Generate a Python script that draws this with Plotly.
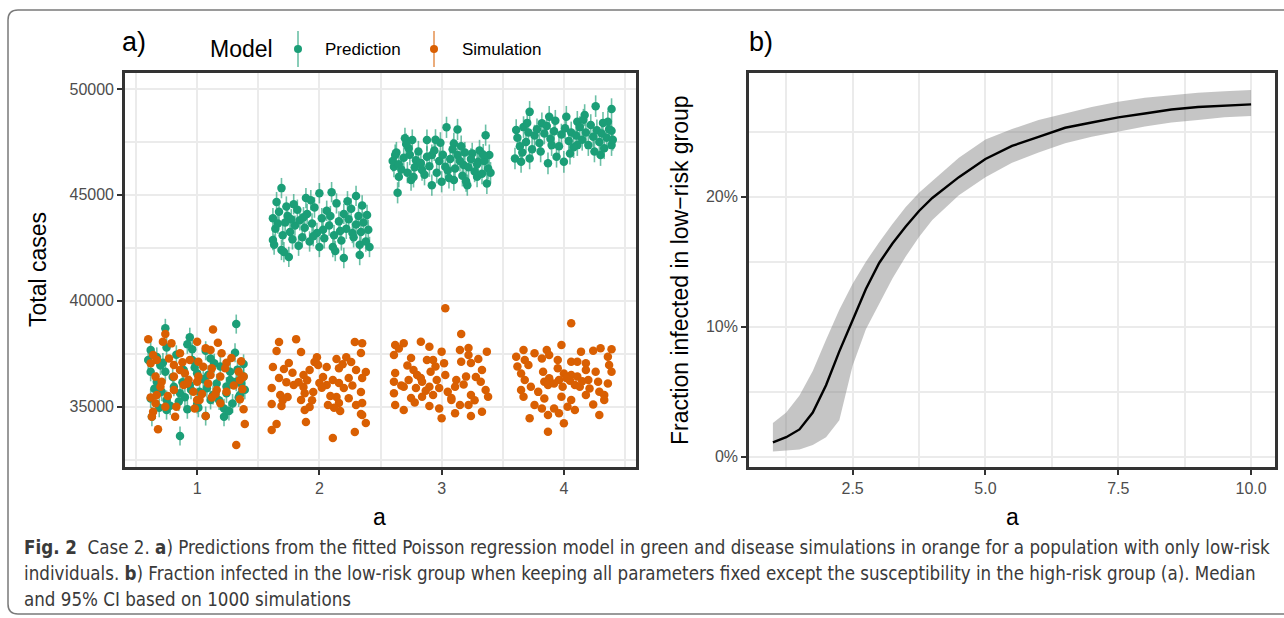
import plotly.graph_objects as go

W, H = 1284, 618

# ---------------- Panel a data: (jitter offset, total cases) ----------------
GROUPS = [1, 2, 3, 4]
PRED_ERR = [450, 480, 500, 510]  # half-width of prediction bars per group

PRED_G1 = [(0.32, 38900), (-0.26, 38700), (-0.06, 38280), (-0.25, 37800), (-0.38, 37680), (-0.04, 37710),
           (0.07, 37640), (0.31, 37550), (-0.40, 37200), (-0.28, 37080), (-0.04, 37200), (0.11, 37280),
           (0.38, 37020), (-0.38, 36650), (-0.26, 36650), (-0.11, 36730), (0.0, 36580), (0.27, 36650),
           (0.38, 36420), (-0.33, 36180), (-0.19, 35940), (-0.06, 36020), (0.08, 35870), (0.16, 36100),
           (0.27, 36260), (0.32, 36180), (-0.29, 35710), (-0.14, 35630), (0.02, 35710), (0.13, 35550),
           (0.24, 35630), (0.35, 35550), (-0.38, 35390), (-0.25, 35320), (-0.15, 35240), (0.0, 35130),
           (0.11, 35320), (0.34, 35440), (-0.08, 34880), (-0.25, 34840), (0.22, 34920), (-0.37, 34530),
           (0.07, 34560), (0.22, 34530), (-0.14, 33620), (-0.33, 37350), (-0.20, 36400), (0.19, 36900),
           (0.05, 36300), (-0.10, 35450), (0.29, 35150), (-0.30, 36950), (0.14, 37050), (0.24, 35950),
           (-0.02, 36850), (-0.35, 35850), (0.36, 36100), (-0.17, 37450), (0.01, 34950), (-0.22, 35050),
           (0.18, 35300), (-0.05, 35800), (0.33, 36750), (-0.12, 36150), (0.09, 36500), (-0.31, 34950),
           (0.26, 34800), (-0.08, 37950), (0.39, 35800)]

PRED_G2 = [(-0.31, 45320), (0.10, 45130), (0.0, 45080), (0.30, 44950), (-0.11, 44850), (-0.35, 44660),
           (-0.21, 44560), (-0.25, 42070), (0.20, 42020), (0.11, 42540), (0.41, 42540), (0.33, 42160),
           (0.0, 42540), (-0.31, 42400), (-0.38, 42870), (-0.38, 43900), (-0.36, 43400), (-0.33, 44200),
           (-0.30, 43100), (-0.28, 43700), (-0.26, 44000), (-0.24, 43250), (-0.22, 42900), (-0.20, 43550),
           (-0.18, 44300), (-0.16, 43800), (-0.14, 43000), (-0.12, 43450), (-0.10, 44100), (-0.08, 42800),
           (-0.06, 43650), (-0.04, 44400), (-0.02, 43200), (0.02, 43900), (0.04, 42950), (0.06, 44250),
           (0.08, 43550), (0.12, 43100), (0.14, 44600), (0.16, 43750), (0.18, 42850), (0.20, 44100),
           (0.22, 43400), (0.24, 43850), (0.26, 44350), (0.28, 43000), (0.30, 43600), (0.32, 44000),
           (0.34, 43250), (0.36, 43700), (0.38, 42800), (0.40, 43350), (-0.37, 42650), (-0.27, 44450),
           (-0.17, 42600), (-0.07, 44750), (0.03, 43350), (0.13, 42350), (0.23, 44700), (0.33, 42650),
           (0.39, 44050), (-0.34, 43650), (-0.13, 43950), (0.09, 44000), (0.27, 43200), (-0.23, 43850),
           (0.17, 43300), (-0.05, 43050), (0.35, 44500), (-0.29, 42300)]

PRED_G3 = [(0.04, 48190), (0.13, 48090), (0.36, 47820), (-0.30, 47670), (-0.24, 47590), (-0.12, 47590),
           (-0.01, 47460), (0.10, 47430), (-0.38, 46880), (-0.27, 47200), (-0.08, 46880), (0.13, 46880),
           (0.25, 46960), (0.39, 46880), (-0.39, 46330), (-0.21, 46640), (-0.16, 46170), (0.03, 46330),
           (0.18, 46410), (0.30, 46560), (-0.35, 45860), (-0.25, 45700), (-0.08, 45460), (0.10, 45700),
           (0.21, 45460), (0.37, 45540), (-0.36, 45100), (0.0, 45620), (0.29, 45860), (-0.40, 46600),
           (-0.37, 47000), (-0.33, 46200), (-0.31, 46750), (-0.28, 46050), (-0.26, 46900), (-0.22, 46300),
           (-0.19, 47050), (-0.17, 46500), (-0.14, 45950), (-0.12, 46800), (-0.10, 46350), (-0.06, 47100),
           (-0.04, 46050), (-0.02, 46600), (0.01, 46900), (0.05, 46150), (0.07, 46700), (0.09, 47150),
           (0.11, 46250), (0.15, 46600), (0.17, 45900), (0.19, 47000), (0.22, 46300), (0.24, 46700),
           (0.27, 46100), (0.29, 46450), (0.31, 47100), (0.33, 46000), (0.35, 46600), (0.38, 46250),
           (0.40, 46050), (-0.35, 46450), (-0.23, 45850), (0.06, 45800), (0.20, 45650), (0.34, 46900),
           (-0.05, 47600), (0.16, 47300), (-0.29, 47400)]

PRED_G4 = [(0.26, 49190), (0.39, 49050), (-0.28, 48920), (-0.12, 48690), (0.02, 48690), (0.17, 48770),
           (-0.39, 48060), (-0.18, 48380), (0.11, 48450), (0.36, 48450), (0.39, 48030), (-0.40, 46720),
           (-0.35, 46560), (-0.28, 46720), (-0.13, 46490), (-0.06, 46800), (0.0, 46560), (0.30, 46880),
           (0.39, 47350), (-0.10, 47350), (0.11, 47350), (-0.38, 47700), (-0.36, 47300), (-0.33, 48200),
           (-0.31, 47500), (-0.29, 47950), (-0.26, 47150), (-0.24, 47800), (-0.22, 48100), (-0.20, 47450),
           (-0.16, 47900), (-0.14, 48250), (-0.11, 47650), (-0.08, 48000), (-0.04, 47300), (-0.02, 47850),
           (0.01, 48150), (0.04, 47550), (0.06, 47950), (0.08, 47250), (0.10, 47800), (0.13, 48200),
           (0.15, 47600), (0.18, 47950), (0.20, 47350), (0.22, 48300), (0.24, 47750), (0.27, 48050),
           (0.29, 47500), (0.31, 47900), (0.33, 47200), (0.35, 47700), (0.37, 48100), (0.40, 47600),
           (-0.34, 47000), (-0.19, 47050), (0.05, 46950), (0.25, 47050), (-0.07, 48500), (0.16, 48550),
           (0.32, 48400), (-0.30, 48400)]

SIM_G1 = [(-0.40, 38180), (-0.26, 38430), (0.13, 38650), (0.0, 38070), (-0.21, 37990), (-0.28, 38070),
          (0.17, 38020), (-0.14, 37520), (0.07, 37760), (0.11, 37680), (0.20, 37520), (-0.36, 37440),
          (-0.33, 37200), (-0.23, 37280), (-0.06, 37200), (0.01, 37120), (0.24, 37080), (-0.38, 37050),
          (-0.19, 36970), (0.05, 36890), (0.12, 36810), (0.23, 36810), (0.34, 36650), (-0.34, 36420),
          (-0.14, 36730), (-0.10, 36580), (0.01, 36420), (0.11, 36500), (0.19, 36420), (0.38, 36420),
          (-0.29, 36180), (-0.19, 36420), (-0.07, 36260), (0.0, 36180), (0.35, 36260), (-0.30, 35940),
          (-0.19, 35790), (-0.11, 36020), (-0.03, 35710), (0.09, 36100), (0.16, 35790), (0.24, 35710),
          (0.37, 35830), (-0.38, 35440), (-0.33, 35550), (0.02, 35320), (0.12, 35440), (0.35, 35350),
          (-0.34, 35160), (-0.17, 35000), (0.0, 35320), (0.19, 35160), (-0.26, 35000), (-0.36, 34760),
          (-0.02, 34920), (0.38, 34880), (-0.18, 34530), (0.07, 34560), (-0.37, 34530), (-0.32, 33930),
          (0.39, 34180), (0.32, 33190), (0.28, 37300), (-0.08, 36100), (0.15, 35600), (-0.24, 35500),
          (0.30, 36000), (-0.12, 37100), (0.04, 35600), (0.36, 37150)]

SIM_G2 = [(-0.33, 38050), (-0.19, 38190), (-0.35, 37630), (-0.15, 37580), (0.29, 38050), (0.35, 38000),
          (0.34, 37530), (-0.38, 36870), (-0.25, 37060), (-0.29, 36780), (-0.02, 37340), (-0.04, 37110),
          (0.14, 37250), (0.22, 37340), (0.26, 37110), (0.06, 36870), (-0.08, 36730), (0.16, 36820),
          (0.30, 36730), (0.38, 36640), (-0.33, 36350), (-0.13, 36500), (-0.27, 36160), (-0.21, 36020),
          (0.0, 36120), (0.11, 36260), (0.24, 36350), (0.35, 36350), (-0.39, 35880), (-0.13, 35930),
          (-0.05, 35690), (0.06, 36020), (0.16, 36120), (0.20, 35880), (0.34, 35690), (-0.32, 35550),
          (-0.12, 35640), (-0.26, 35460), (0.14, 35460), (-0.39, 35130), (-0.31, 35030), (-0.15, 35320),
          (-0.08, 34990), (0.07, 35080), (0.16, 35170), (0.30, 35080), (0.35, 35170), (-0.12, 34840),
          (0.17, 34800), (0.34, 34650), (-0.35, 34180), (-0.39, 33900), (-0.11, 34280), (0.38, 34230),
          (0.29, 33810), (0.11, 33520), (0.35, 34610), (0.03, 36400), (-0.01, 36970), (-0.17, 36160),
          (-0.22, 36600), (0.09, 35500), (0.27, 36000), (-0.06, 35300), (0.19, 37000), (-0.30, 35300),
          (0.02, 35900), (0.24, 35400), (-0.10, 36250), (0.12, 34950)]

SIM_G3 = [(0.03, 39645), (0.16, 38430), (-0.38, 37910), (-0.31, 38000), (-0.17, 38070), (-0.10, 37830),
          (0.0, 37600), (0.15, 37680), (0.22, 37770), (0.37, 37600), (-0.39, 37440), (-0.25, 37300),
          (-0.12, 37200), (-0.07, 37200), (0.16, 37120), (0.24, 37060), (0.22, 37440), (-0.38, 36590),
          (-0.23, 36730), (-0.09, 36650), (0.03, 36500), (0.33, 36730), (-0.39, 36180), (-0.27, 36260),
          (-0.16, 36180), (-0.04, 36260), (0.12, 36260), (0.20, 36420), (0.28, 36400), (0.32, 36180),
          (-0.31, 35940), (-0.21, 35880), (-0.10, 35940), (-0.02, 35880), (0.11, 35940), (0.36, 35790),
          (-0.39, 35640), (-0.25, 35410), (-0.16, 35470), (-0.07, 35550), (0.08, 35410), (0.24, 35550),
          (0.38, 35470), (-0.38, 35080), (-0.31, 34840), (-0.10, 35030), (-0.02, 34920), (0.08, 35320),
          (0.15, 35080), (0.22, 35080), (0.33, 34760), (0.0, 34450), (0.11, 34690), (0.24, 34560),
          (-0.17, 36350), (-0.35, 37750), (-0.28, 36950), (-0.20, 36500), (-0.13, 35750), (-0.05, 36900),
          (0.05, 35700), (0.18, 36050), (0.27, 35300), (0.30, 37250), (-0.22, 35200), (0.02, 37050),
          (-0.33, 36000)]

SIM_G4 = [(0.06, 38940), (-0.02, 37910), (-0.33, 37680), (-0.24, 37520), (-0.14, 37680), (0.14, 37600),
          (0.24, 37640), (0.30, 37760), (0.39, 37710), (-0.39, 37360), (-0.32, 37200), (-0.18, 37280),
          (-0.12, 37440), (-0.05, 37200), (0.06, 37120), (0.11, 37120), (0.18, 37050), (0.36, 37360),
          (0.37, 36970), (-0.29, 36970), (-0.05, 36810), (0.18, 36730), (0.39, 36650), (-0.35, 36570),
          (-0.17, 36650), (-0.12, 36340), (0.0, 36570), (0.06, 36500), (0.11, 36420), (0.26, 36650),
          (-0.32, 36260), (-0.16, 36180), (-0.04, 36260), (0.05, 36230), (0.09, 36020), (0.13, 35940),
          (0.20, 36260), (0.28, 36180), (0.36, 36100), (-0.27, 35940), (-0.13, 36020), (-0.01, 35940),
          (0.21, 35860), (0.29, 35710), (-0.35, 35790), (0.33, 35550), (-0.33, 35470), (-0.16, 35390),
          (-0.02, 35470), (0.06, 35320), (0.18, 35550), (0.33, 35320), (-0.24, 35080), (-0.18, 34920),
          (-0.08, 34920), (0.03, 35000), (0.09, 34840), (-0.04, 34690), (-0.13, 34610), (-0.28, 34450),
          (0.29, 34610), (0.0, 34220), (-0.13, 33820), (-0.08, 36100), (0.02, 36350), (-0.21, 35700),
          (0.24, 35100), (-0.38, 36900), (0.15, 36200)]

# ---------------- Panel b data (percent) ----------------
A_VALS = [1.0, 1.25, 1.5, 1.75, 2.0, 2.25, 2.5, 2.75, 3.0, 3.25, 3.5, 3.75, 4.0, 4.5, 5.0, 5.5,
          6.0, 6.5, 7.0, 7.5, 8.0, 8.5, 9.0, 9.5, 10.0]
FRAC_MED = [1.1, 1.5, 2.1, 3.4, 5.5, 8.1, 10.5, 12.9, 14.9, 16.4, 17.7, 18.9, 19.9, 21.5, 22.9, 23.9,
            24.6, 25.3, 25.7, 26.1, 26.4, 26.7, 26.9, 27.0, 27.1]
FRAC_LO = [0.4, 0.45, 0.55, 0.9, 1.5, 2.8, 7.0, 9.8, 11.8, 13.7, 15.4, 16.9, 18.2, 20.1, 21.5, 22.6,
           23.4, 24.1, 24.6, 25.0, 25.4, 25.7, 25.9, 26.1, 26.2]
FRAC_HI = [2.6, 3.4, 4.7, 6.6, 9.0, 11.3, 13.3, 15.0, 16.5, 17.9, 19.2, 20.3, 21.2, 23.0, 24.4, 25.2,
           25.9, 26.4, 26.9, 27.3, 27.6, 27.8, 28.0, 28.1, 28.2]

GREEN = "#1B9E77"
ORANGE = "#D95F02"
GREEN_BAR = "rgba(27,158,119,0.65)"
ORANGE_BAR = "rgba(217,95,2,0.65)"
FONT = "Liberation Sans, Arial, Helvetica, sans-serif"
TICK_COL = "#4D4D4D"
AX_COL = "#333333"
GRID = "#EBEBEB"


def px(x):
    return x / W


def py(y):
    return 1 - y / H


fig = go.Figure()

pred_sets = [PRED_G1, PRED_G2, PRED_G3, PRED_G4]
sim_sets = [SIM_G1, SIM_G2, SIM_G3, SIM_G4]

gx, gy, ge = [], [], []
for g, pts, e in zip(GROUPS, pred_sets, PRED_ERR):
    for dx, v in pts:
        gx.append(g + dx)
        gy.append(v)
        ge.append(e)

ox, oy = [], []
for g, pts in zip(GROUPS, sim_sets):
    for dx, v in pts:
        ox.append(g + dx)
        oy.append(v)

fig.add_trace(go.Scatter(
    x=gx, y=gy, mode="markers", xaxis="x", yaxis="y", showlegend=False,
    marker=dict(color=GREEN, size=8.5, line=dict(width=0)),
    error_y=dict(type="data", array=ge, visible=True, color=GREEN_BAR, thickness=1.6, width=0),
))
fig.add_trace(go.Scatter(
    x=ox, y=oy, mode="markers", xaxis="x", yaxis="y", showlegend=False,
    marker=dict(color=ORANGE, size=8.5, line=dict(width=0)),
))

# panel b ribbon + median
lo = [v / 100 for v in FRAC_LO]
hi = [v / 100 for v in FRAC_HI]
med = [v / 100 for v in FRAC_MED]
fig.add_trace(go.Scatter(
    x=A_VALS + A_VALS[::-1], y=hi + lo[::-1], fill="toself", fillcolor="rgba(128,128,128,0.46)",
    line=dict(width=0), mode="lines", xaxis="x2", yaxis="y2", showlegend=False, hoverinfo="skip",
))
fig.add_trace(go.Scatter(
    x=A_VALS, y=med, mode="lines", line=dict(color="black", width=2.4),
    xaxis="x2", yaxis="y2", showlegend=False,
))

PLOT_TOP, PLOT_BOT = 73, 467
ydom = [py(PLOT_BOT), py(PLOT_TOP)]


def axis_common():
    return dict(
        showgrid=True, gridcolor=GRID, gridwidth=2,
        showline=True, mirror=True, linecolor=AX_COL, linewidth=2.6,
        ticks="outside", ticklen=5, tickwidth=2, tickcolor=AX_COL,
        tickfont=dict(family=FONT, size=16, color=TICK_COL),
        zeroline=False,
    )


MINOR = dict(showgrid=True, gridcolor=GRID, gridwidth=1.8)

fig.update_layout(
    width=W, height=H, margin=dict(l=0, r=0, t=0, b=0),
    paper_bgcolor="white", plot_bgcolor="white",
    font=dict(family=FONT),
    xaxis=dict(domain=[px(125), px(636)], range=[0.41, 4.59], anchor="y",
               tickmode="linear", tick0=1, dtick=1,
               minor=dict(dtick=0.5, **MINOR), **axis_common()),
    yaxis=dict(domain=ydom, range=[32153, 50755], anchor="x",
               tickmode="linear", tick0=35000, dtick=5000, tickformat="d",
               minor=dict(dtick=2500, **MINOR), **axis_common()),
    xaxis2=dict(domain=[px(749), px(1275)], range=[0.55, 10.45], anchor="y2",
                tickmode="linear", tick0=0, dtick=2.5, tickformat=".1f",
                minor=dict(dtick=1.25, **MINOR), **axis_common()),
    yaxis2=dict(domain=ydom, range=[-0.0079, 0.2951], anchor="x2",
                tickmode="linear", tick0=0, dtick=0.1, tickformat=".0%",
                minor=dict(dtick=0.05, **MINOR), **axis_common()),
)

shapes = []
# outer rounded frame (extends beyond the right edge)
fx0, fy0, fy1, r = 8, 10, 614, 10
path = (f"M {px(1300)},{py(fy0)} L {px(fx0 + r)},{py(fy0)} "
        f"Q {px(fx0)},{py(fy0)} {px(fx0)},{py(fy0 + r)} "
        f"L {px(fx0)},{py(fy1 - r)} Q {px(fx0)},{py(fy1)} {px(fx0 + r)},{py(fy1)} "
        f"L {px(1300)},{py(fy1)}")
shapes.append(dict(type="path", xref="paper", yref="paper", path=path,
                   line=dict(color="#7A7A7A", width=1.5)))

# manual legend keys
for cx, lc, pc in [(298, GREEN_BAR, GREEN), (434, ORANGE_BAR, ORANGE)]:
    shapes.append(dict(type="line", xref="paper", yref="paper",
                       x0=px(cx), x1=px(cx), y0=py(31), y1=py(67),
                       line=dict(color=lc, width=1.6)))
    shapes.append(dict(type="circle", xref="paper", yref="paper",
                       x0=px(cx - 4), x1=px(cx + 4), y0=py(53), y1=py(45),
                       fillcolor=pc, line=dict(width=0)))
fig.update_layout(shapes=shapes)

ann = []


def text(x, y, s, size, xanchor="left", color="black", angle=0, family=FONT):
    ann.append(dict(xref="paper", yref="paper", x=px(x), y=py(y), text=s, showarrow=False,
                    xanchor=xanchor, yanchor="middle", textangle=angle,
                    font=dict(family=family, size=size, color=color)))


text(120, 42, "a)", 27)
text(747, 42, "b)", 27)
text(208, 49, "Model", 23)
text(323, 49, "Prediction", 17)
text(460, 49, "Simulation", 17)
text(38, 270, "Total cases", 23, xanchor="center", angle=-90)
text(680, 270, "Fraction infected in low\u2212risk group", 23, xanchor="center", angle=-90)
text(380, 517, "a", 23, xanchor="center")
text(1012, 517, "a", 23, xanchor="center")

CAP_FONT = "Liberation Sans Narrow, DejaVu Sans Condensed, Roboto Condensed, Arial Narrow, sans-serif"
CAP_COL = "#3A3A3A"
cap_lines = [
    "<b>Fig. 2</b>\u00a0\u00a0Case 2. <b>a</b>) Predictions from the fitted Poisson regression model in green and "
    "disease simulations in orange for a population with only low-risk",
    "individuals. <b>b</b>) Fraction infected in the low-risk group when keeping all parameters fixed except the "
    "susceptibility in the high-risk group (a). Median",
    "and 95% CI based on 1000 simulations",
]
for i, line in enumerate(cap_lines):
    text(22, 547 + 26 * i, line, 18.6, color=CAP_COL, family=CAP_FONT)

fig.update_layout(annotations=ann)

fig.write_html("out.html")
